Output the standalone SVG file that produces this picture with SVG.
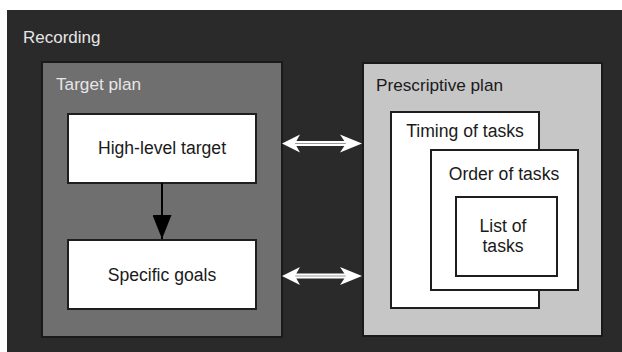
<svg xmlns="http://www.w3.org/2000/svg" width="622" height="352" viewBox="0 0 622 352">
<defs>
<style>
.t{font-family:"Liberation Sans",Arial,sans-serif;}
.lbl{font-size:17.6px;fill:#1a1a1a;text-anchor:middle;}
.hdr{font-size:17.2px;fill:#e6e6e6;}
.hdrd{font-size:17.2px;fill:#1a1a1a;}
.box{fill:#ffffff;stroke:#1e1e1e;stroke-width:2;}
.da{fill:#ffffff;}
</style>
<marker id="ah" viewBox="0 0 10 10" refX="10" refY="5" markerWidth="24" markerHeight="19" markerUnits="userSpaceOnUse" orient="auto" preserveAspectRatio="none">
<path d="M0,0 L10,5 L0,10 Z" fill="#000"/>
</marker>
</defs>
<rect x="0" y="0" width="622" height="352" fill="#ffffff"/>
<rect x="7" y="10" width="615" height="342" fill="#2a2a2a"/>
<text class="t hdr" x="23" y="43" style="font-size:17px">Recording</text>

<g id="target-plan">
<rect x="42" y="62" width="240" height="275" fill="#6f6f6f" stroke="#1a1a1a" stroke-width="2"/>
<text class="t hdr" x="56" y="90">Target plan</text>
</g>
<g id="high-level-target">
<rect class="box" x="68" y="114" width="188" height="69"/>
<text class="t lbl" x="162" y="154">High-level target</text>
</g>
<g id="specific-goals">
<rect class="box" x="68" y="240" width="188" height="69"/>
<text class="t lbl" x="162" y="281">Specific goals</text>
</g>

<g id="prescriptive-plan">
<rect x="363" y="63" width="239" height="273" fill="#c6c6c6" stroke="#1a1a1a" stroke-width="2"/>
<text class="t hdrd" x="376" y="91">Prescriptive plan</text>
</g>
<g id="timing-of-tasks">
<rect class="box" x="391" y="112" width="148" height="196"/>
<text class="t lbl" x="465" y="137">Timing of tasks</text>
</g>
<g id="order-of-tasks">
<rect class="box" x="431" y="150" width="147" height="140"/>
<text class="t lbl" x="504" y="180">Order of tasks</text>
</g>
<g id="list-of-tasks">
<rect class="box" x="456" y="197" width="101" height="79"/>
<text class="t lbl" x="503" y="232">List of</text>
<text class="t lbl" x="503" y="252">tasks</text>
</g>

<g id="connectors">
<line x1="162" y1="183" x2="162" y2="239" stroke="#000" stroke-width="2" marker-end="url(#ah)"/>
<g id="dbl-top">
<rect x="292" y="141" width="56" height="5" fill="#ffffff"/>
<line x1="292" y1="143.5" x2="348" y2="143.5" stroke="#9a9a9a" stroke-width="1"/>
<path class="da" d="M282,143.5 L300,134.5 L295,143.5 L300,152.5 Z"/>
<path class="da" d="M362,143.5 L340,134.5 L346,143.5 L340,152.5 Z"/>
</g>
<g id="dbl-bottom">
<rect x="292" y="273.5" width="56" height="5" fill="#ffffff"/>
<line x1="292" y1="276" x2="348" y2="276" stroke="#9a9a9a" stroke-width="1"/>
<path class="da" d="M282,276 L300,267 L295,276 L300,285 Z"/>
<path class="da" d="M362,276 L340,267 L346,276 L340,285 Z"/>
</g>
</g>
</svg>
